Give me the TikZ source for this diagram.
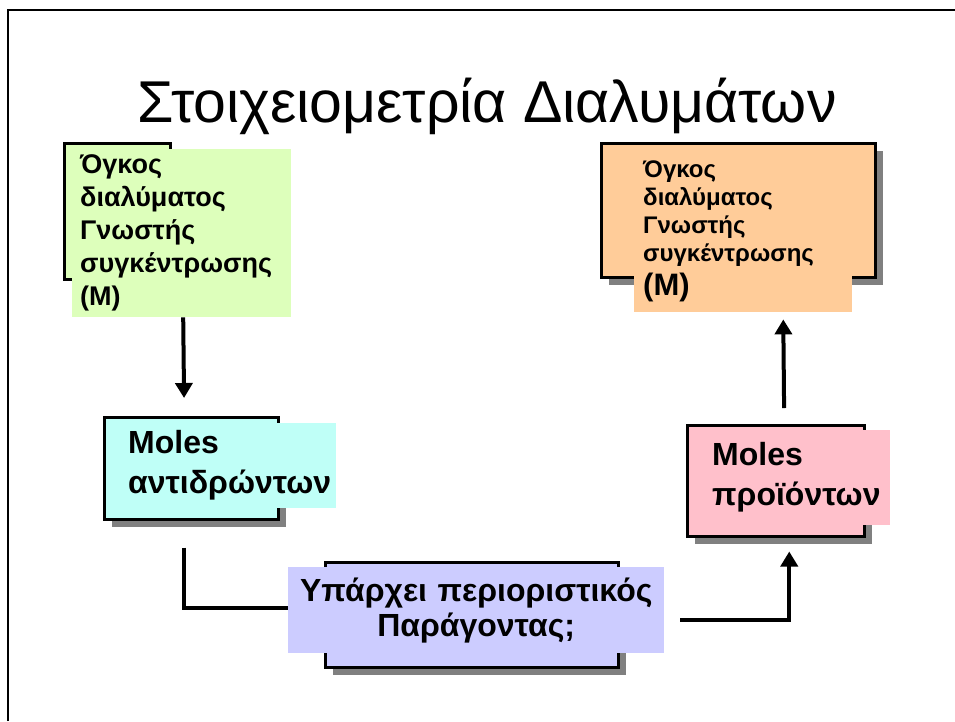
\documentclass[tikz,border=0pt]{standalone}
\usepackage{fontspec}
\setmainfont{Liberation Sans}
\usetikzlibrary{arrows.meta,shadows}

\definecolor{grn}{RGB}{221,255,187}
\definecolor{org}{RGB}{255,204,153}
\definecolor{cyn}{RGB}{191,255,247}
\definecolor{pnk}{RGB}{255,192,203}
\definecolor{lav}{RGB}{204,204,255}
\definecolor{shd}{RGB}{128,128,128}

\begin{document}
\begin{tikzpicture}[
		x=1pt, y=-1pt,
		frm/.style={draw=black, line width=2.5pt, anchor=north west, inner sep=0pt,
			general shadow={fill=shd, shadow xshift=8pt, shadow yshift=-8pt}},
		txt/.style={anchor=north west, inner ysep=0pt, align=left},
		arr/.style={line width=4pt, -{Triangle[length=15pt,width=17pt]}},
		lnk/.style={line width=4pt}
	]
	\useasboundingbox (0,0) rectangle (955,721);
	\draw[line width=2.5pt] (8,721) -- (8,10) -- (955,10);

	\node[anchor=base] (title) at (487,122)
		{\fontsize{59}{62}\selectfont Στοιχειομετρία Διαλυμάτων};

	% frames with shadow
	\foreach \n/\c/\x/\y/\w/\h in {
		grnfr/grn/63/142/106/136,
		orgfr/org/600/142/274/134,
		cynfr/cyn/103/416/174/102,
		pnkfr/pnk/686/424/177/111,
		lavfr/lav/324/561/293/105}
		\node[frm, fill=\c, minimum width=\w pt, minimum height=\h pt] (\n) at (\x,\y) {};

	% text boxes
	\node[txt, fill=grn, text width=203pt, minimum height=168pt, inner xsep=8pt,
		font=\bfseries\fontsize{27}{33}\selectfont] (grn) at (72,149)
		{Όγκος\\διαλύματος\\Γνωστής\\συγκέντρωσης\\(M)};
	\node[txt, fill=org, text width=200pt, minimum height=162pt, inner xsep=9pt,
		font=\bfseries\fontsize{24}{28}\selectfont] (org) at (634,150)
		{Όγκος\\διαλύματος\\Γνωστής\\συγκέντρωσης\\[6pt]{\fontsize{31}{28}\selectfont(M)}};
	\node[txt, fill=cyn, text width=204pt, minimum height=85pt, inner xsep=4pt,
		font=\bfseries\fontsize{32}{40}\selectfont] (cyn) at (124,423)
		{Moles\\αντιδρώντων};
	\node[txt, fill=pnk, text width=174pt, minimum height=95pt, inner xsep=4pt,
		font=\bfseries\fontsize{32}{40}\selectfont] (pnk) at (708,430)
		{Moles\\προϊόντων};
	\node[txt, fill=lav, text width=368pt, minimum height=86pt, inner xsep=4pt, align=center,
		font=\bfseries\fontsize{32}{35}\selectfont] (lav) at (288,567)
		{Υπάρχει περιοριστικός\\Παράγοντας;};

	% connectors
	\draw[arr, shorten >=18pt] ([xshift=1.5pt]grn.south) -- ([xshift=-7pt]cynfr.north);
	\draw[lnk, shorten <=27pt] ([xshift=-7pt]cynfr.south) |- ([yshift=2pt]lav.west);
	\draw[arr, shorten <=16pt, shorten >=14pt] ([yshift=-10pt]lav.east) -| ([xshift=13.5pt]pnkfr.south);
	\draw[arr, shorten <=16pt, shorten >=7pt] ([xshift=8.5pt]pnkfr.north) -- ([xshift=40pt]org.south);

\end{tikzpicture}
\end{document}
